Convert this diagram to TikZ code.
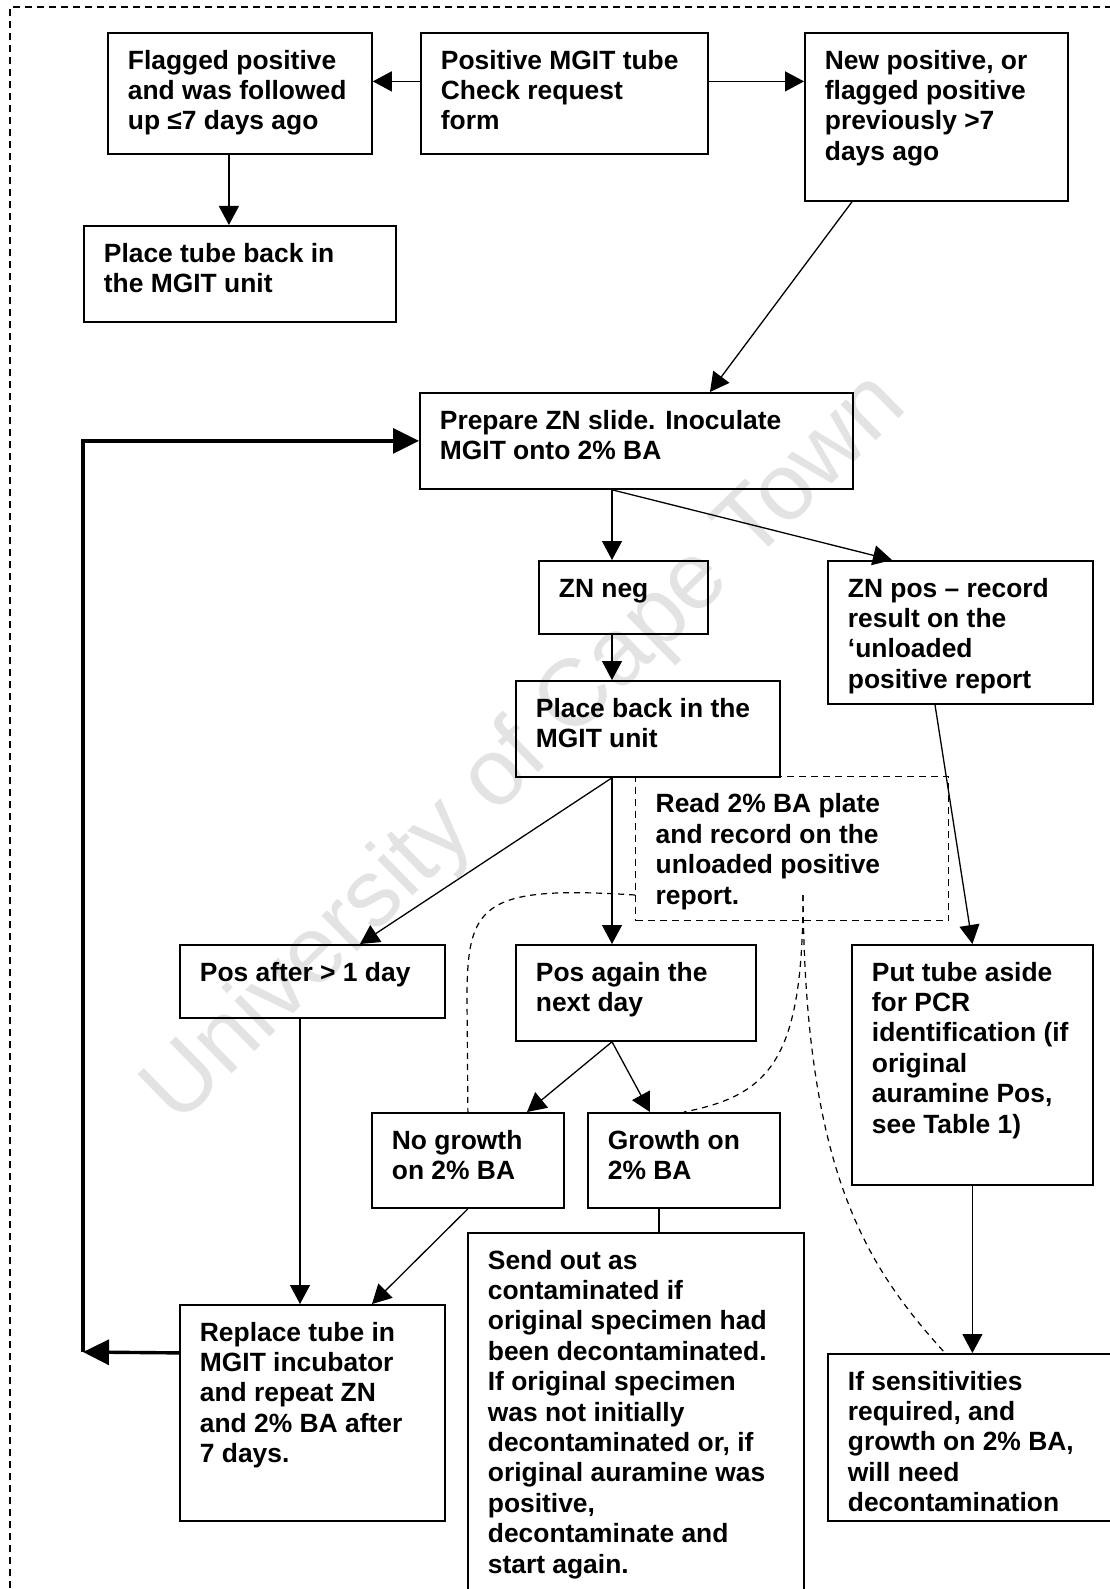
\documentclass[tikz,border=0pt]{standalone}
\usepackage{fontspec}
\setmainfont{Liberation Sans}
\usetikzlibrary{arrows.meta}

\newcommand{\boxfont}{\bfseries\fontsize{13.2}{15.2}\selectfont}
\newcommand{\boxtext}[3]{\parbox[c][#2][t]{#1}{\raggedright\leftskip=10pt\vspace*{7.5pt}\strut#3}}

\begin{document}
\begin{tikzpicture}[x=0.5pt, y=-0.5pt,
    stage/.style ={draw, line width=0.9pt, anchor=north west, inner sep=0pt, font=\boxfont},
    note/.style ={stage, dash pattern=on 3.5pt off 2.5pt, line width=0.7pt},
    flow/.style ={-{Triangle[length=9.5pt,width=10pt]}, line width=0.65pt},
    loopback/.style ={-{Triangle[length=13pt,width=12.5pt]}, line width=1.7pt},
    hint/.style ={dash pattern=on 3pt off 2.5pt, line width=0.6pt},
    outerframe/.style ={dash pattern=on 3.5pt off 2.5pt, line width=0.6pt},
    watermark/.style ={text=black!11, font=\fontsize{47.5}{50}\selectfont, rotate=44.5}]
   \useasboundingbox (0,0) rectangle (1109,1589);

   \node[watermark] (wm) at (527,750) {University of Cape Town};
   \draw[outerframe] (10,1600) -- (10,7) -- (1120,7);

   % top row
   \node[stage] (flagged)  at (107,32)  {\boxtext{132pt}{60.5pt}{Flagged positive\\and was followed\\up ≤7 days ago}};
   \node[stage] (positive) at (420,32)  {\boxtext{143.5pt}{60.5pt}{Positive MGIT tube\\Check request\\form}};
   \node[stage] (newpos)   at (804,32)  {\boxtext{131.5pt}{84pt}{New positive, or\\flagged positive\\previously >7\\days ago}};
   \node[stage] (backunit) at (83,225)  {\boxtext{156pt}{48pt}{Place tube back in\\the MGIT unit}};

   % slide and plate
   \node[stage] (prepare)  at (419,392) {\boxtext{216.5pt}{48pt}{Prepare ZN slide. Inoculate\\MGIT onto 2\% BA}};
   \node[stage] (znneg)    at (538,560) {\boxtext{84.5pt}{36.5pt}{ZN neg}};
   \node[stage] (znpos)    at (827,560) {\boxtext{132.5pt}{71.5pt}{ZN pos – record\\result on the\\‘unloaded\\positive report}};
   \node[stage] (backmgit) at (515,680) {\boxtext{132pt}{48pt}{Place back in the\\MGIT unit}};
   \node[note]  (readba)   at (635,776) {\boxtext{156.5pt}{72pt}{Read 2\% BA plate\\and record on the\\unloaded positive\\report.}};

   % outcomes
   \node[stage] (posafter) at (179,944) {\boxtext{132.5pt}{36.5pt}{Pos after > 1 day}};
   \node[stage] (posagain) at (515,944) {\boxtext{120pt}{48pt}{Pos again the\\next day}};
   \node[stage] (pcr)      at (851,944) {\boxtext{120.5pt}{120pt}{Put tube aside\\for PCR\\identification (if\\original\\auramine Pos,\\see Table 1)}};
   \node[stage] (nogrowth) at (371,1112) {\boxtext{96pt}{47.5pt}{No growth\\on 2\% BA}};
   \node[stage] (growth)   at (587,1112) {\boxtext{96pt}{47.5pt}{Growth on\\2\% BA}};
   \node[stage] (sendout)  at (467,1232) {\boxtext{168pt}{200pt}{Send out as\\contaminated if\\original specimen had\\been decontaminated.\\If original specimen\\was not initially\\decontaminated or, if\\original auramine was\\positive,\\decontaminate and\\start again.}};
   \node[stage] (replace)  at (179,1304) {\boxtext{132.5pt}{108pt}{Replace tube in\\MGIT incubator\\and repeat ZN\\and 2\% BA after\\7 days.}};
   \node[stage] (sensitiv) at (827,1353) {\boxtext{150pt}{83.5pt}{If sensitivities\\required, and\\growth on 2\% BA,\\will need\\decontamination}};

   \coordinate (spine) at (612,0);
   \coordinate (loopturn) at (83,1352);
   \coordinate (readleft) at (635,895);
   \coordinate (readmark) at (803,895);

   \draw[flow] ([yshift=6pt]positive.west) -- ([yshift=6pt]positive.west -| flagged.east);
   \draw[flow] ([yshift=6pt]positive.east) -- ([yshift=6pt]positive.east -| newpos.west);
   \draw[flow] ([xshift=-5.5pt]flagged.south) -- ([xshift=-5.5pt]flagged.south |- backunit.north);
   \draw[flow] ([xshift=24pt]newpos.south west) -- ([xshift=145.5pt]prepare.north west);
   \draw[flow] (spine |- prepare.south) -- (spine |- znneg.north);
   \draw[flow] (spine |- prepare.south) -- ([xshift=32.5pt]znpos.north west);
   \draw[flow] ([xshift=54pt]znpos.south west) -- (pcr.north);
   \draw[flow] (spine |- znneg.south) -- (spine |- backmgit.north);
   \draw[flow] (spine |- backmgit.south) -- ([xshift=90.5pt]posafter.north west);
   \draw[flow] (spine |- backmgit.south) -- (spine |- posagain.north);
   \draw[flow] (spine |- posagain.south) -- ([xshift=78pt]nogrowth.north west);
   \draw[flow] (spine |- posagain.south) -- ([xshift=31.5pt]growth.north west);
   \draw[line width=0.65pt] ([xshift=36pt]growth.south west) -- ([xshift=36pt]growth.south west |- sendout.north);
   \draw[flow] ([xshift=60.5pt]posafter.south west) -- ([xshift=60.5pt]posafter.south west |- replace.north);
   \draw[flow] (nogrowth.south) -- ([xshift=96.5pt]replace.north west);
   \draw[flow] (pcr.south) -- (pcr.south |- sensitiv.north);

   % back round to a new slide
   \draw[loopback] ([yshift=30pt]replace.west) -- (loopturn);
   \draw[loopback] (loopturn) |- (prepare.west);

   % dashed links from the plate reading
   \draw[hint] (readleft) .. controls (480,885) and (467,905) .. (467,1000) -- (nogrowth.north);
   \draw[hint] (readmark) .. controls (803,1060) and (770,1095) .. (growth.north);
   \draw[hint] (readmark) .. controls (805,1170) and (865,1265) .. ([xshift=59pt]sensitiv.north west);
\end{tikzpicture}
\end{document}
